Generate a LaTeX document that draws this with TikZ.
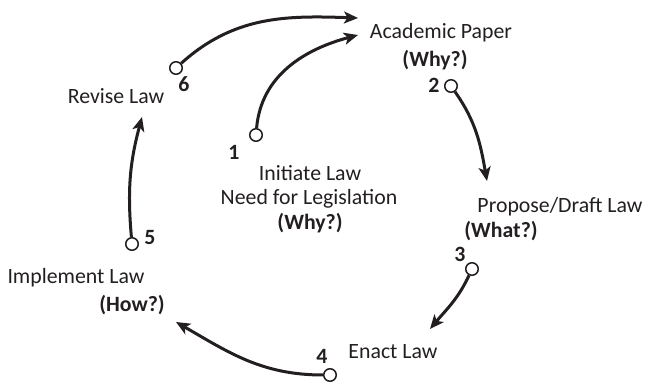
\documentclass[tikz,border=0pt]{standalone}
\usepackage{fontspec}
\setmainfont{Carlito}
\usetikzlibrary{arrows.meta}
\definecolor{ink}{HTML}{231F20}
\begin{document}
\begin{tikzpicture}[x=1pt,y=-1pt,
  every node/.style={text=ink,inner sep=0pt,font=\fontsize{21.8}{26}\selectfont},
  label/.style={anchor=base},
  num/.style={anchor=base,font=\fontsize{21.8}{26}\selectfont\bfseries},
  dot/.style={circle,draw=ink,fill=white,line width=1.5pt,minimum size=12.5pt},
  flow/.style={draw=ink,line width=3pt,-{Stealth[length=14pt,width=12pt,inset=3.5pt]}}]
\useasboundingbox (0,0) rectangle (646,382);

% stage labels
\node[label] (paper) at (441,39) {Academic Paper};
\node[label,font=\fontsize{21.8}{26}\selectfont\bfseries] (why2) at (435,67) {(Why?)};
\node[label] (draft) at (560,213) {Propose/Draft Law};
\node[label,font=\fontsize{21.8}{26}\selectfont\bfseries] (what) at (501,238) {(What?)};
\node[label] (enact) at (393,359) {Enact Law};
\node[label] (impl) at (76,284) {Implement Law};
\node[label,font=\fontsize{21.8}{26}\selectfont\bfseries] (how) at (132,312) {(How?)};
\node[label] (revise) at (116,104) {Revise Law};
\node[label] (init) at (310,181) {Initiate Law};
\node[label] (need) at (309,205) {Need for Legislation};
\node[label,font=\fontsize{21.8}{26}\selectfont\bfseries] (why1) at (310,230) {(Why?)};

% step numbers
\node[num] (n1) at (234,160) {1};
\node[num] (n2) at (434,93) {2};
\node[num] (n3) at (460,262) {3};
\node[num] (n4) at (322,364) {4};
\node[num] (n5) at (150,245) {5};
\node[num] (n6) at (184,92) {6};

% step circles
\node[dot] (c1) at (256,135) {};
\node[dot] (c2) at (451,86) {};
\node[dot] (c3) at (472,269) {};
\node[dot] (c4) at (330,375) {};
\node[dot] (c5) at (132,244) {};
\node[dot] (c6) at (176,68) {};

% arrow tips
\coordinate (t1) at (358,35);
\coordinate (t2) at (487,181);
\coordinate (t3) at (430,329);
\coordinate (t4) at (176,322);
\coordinate (t5) at (142,117);
\coordinate (t6) at (358,18);

% flow arrows
\draw[flow] (c1) to[out=85,in=195] (t1);
\draw[flow] (c6) to[out=42,in=178] (t6);
\draw[flow] (c2) to[out=-55,in=100] (t2);
\draw[flow] (c3) to[out=-115,in=50] (t3);
\draw[flow] (c4) to[out=180,in=-30] (t4);
\draw[flow] (c5) to[out=95,in=-105] (t5);
\end{tikzpicture}
\end{document}
